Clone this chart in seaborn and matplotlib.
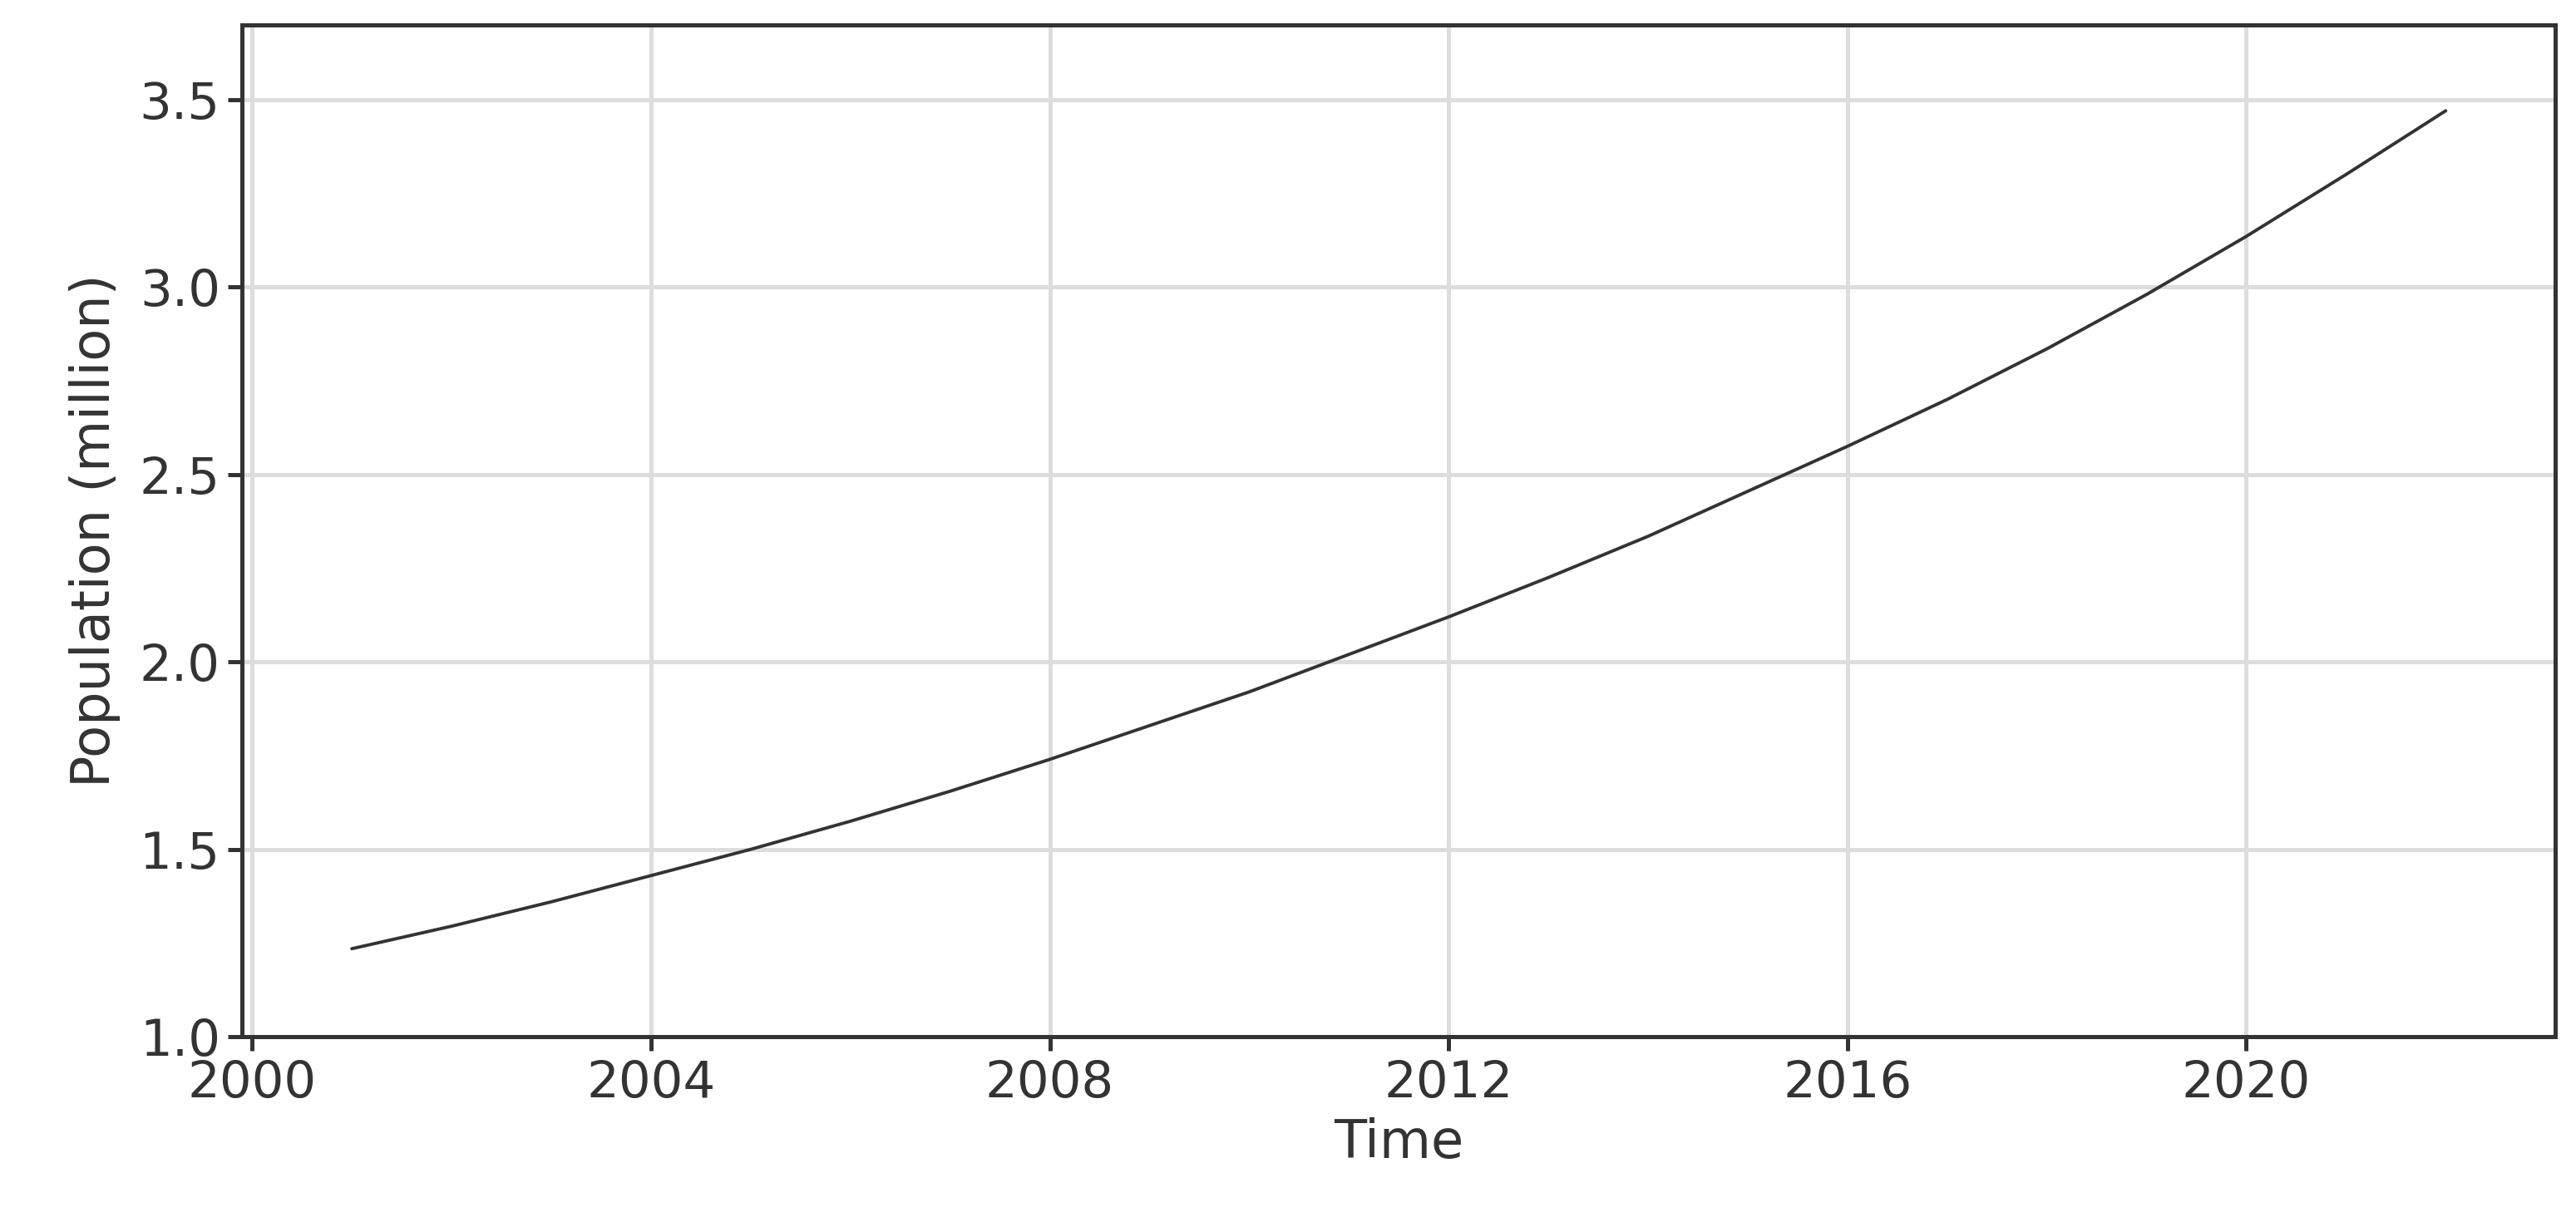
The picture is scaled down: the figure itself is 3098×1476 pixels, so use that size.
import numpy as np
import pandas as pd
import seaborn as sns
import matplotlib
matplotlib.use("Agg")
import matplotlib.pyplot as plt

years = [2001, 2002, 2003, 2004, 2005, 2006, 2007, 2008, 2009, 2010, 2011,
         2012, 2013, 2014, 2015, 2016, 2017, 2018, 2019, 2020, 2021, 2022]
population = [1.235, 1.295, 1.36, 1.43, 1.50, 1.575, 1.655, 1.74, 1.83, 1.92, 2.02,
              2.12, 2.225, 2.335, 2.455, 2.575, 2.70, 2.835, 2.98, 3.135, 3.30, 3.47]

data = pd.DataFrame({"Time": years, "Population (million)": population})

sns.set_theme(style="ticks", context="notebook")
plt.rcParams["font.family"] = ["DejaVu Sans"]

fig, ax = plt.subplots(figsize=(15.49, 7.38), dpi=200)
fig.subplots_adjust(left=0.094, right=0.992, top=0.98, bottom=0.155)

sns.lineplot(data=data, x="Time", y="Population (million)", color="#333333", linewidth=1.4, ax=ax)

ax.grid(True, color="#dddddd", linewidth=1.8)
ax.set_axisbelow(True)
ax.set_xlim(1999.9, 2023.1)
ax.set_ylim(1.0, 3.7)
ax.set_xticks([2000, 2004, 2008, 2012, 2016, 2020])
ax.set_yticks([1.0, 1.5, 2.0, 2.5, 3.0, 3.5])
ax.tick_params(labelsize=22, colors="#333333", width=1.8, length=6)
for s in ax.spines.values():
    s.set_color("#333333")
    s.set_linewidth(1.8)
ax.set_xlabel("Time", fontsize=23, color="#333333", labelpad=4)
ax.set_ylabel("Population (million)", fontsize=23, color="#333333", labelpad=8)

fig.savefig("out.png", dpi=200)
